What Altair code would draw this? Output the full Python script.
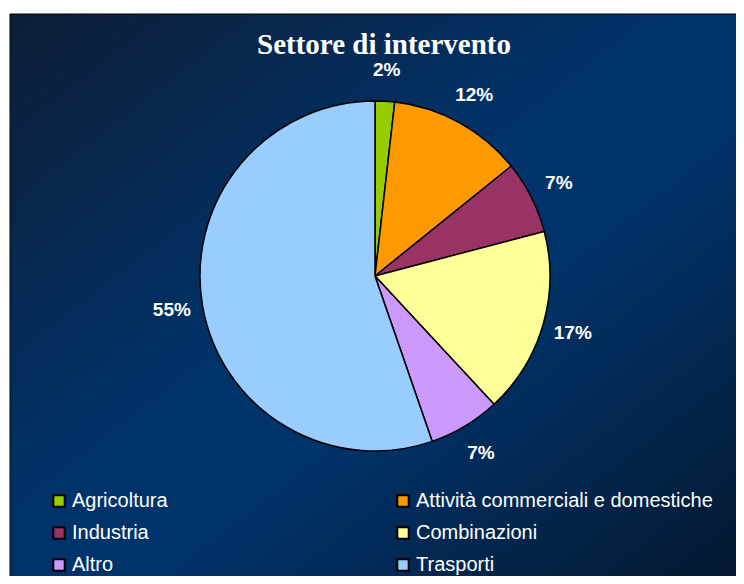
import altair as alt
import pandas as pd

categories = ["Agricoltura", "Attività commerciali e domestiche", "Industria",
              "Combinazioni", "Altro", "Trasporti"]
values = [1.8, 12.4, 6.7, 17.2, 6.6, 55.3]
labels = ["2%", "12%", "7%", "17%", "7%", "55%"]
colors = ["#99CC00", "#FF9900", "#993366", "#FFFF99", "#CC99FF", "#99CCFF"]
title_text = "Settore di intervento"

W, H = 728, 568
CX, CY = 367, 268

df = pd.DataFrame({"cat": categories, "val": values, "lab": labels,
                   "idx": list(range(len(categories)))})

bg = alt.Chart(pd.DataFrame({"k": [0]})).mark_rect(
    color=alt.Gradient(
        gradient="linear", x1=0, y1=0, x2=1, y2=1,
        stops=[alt.GradientStop(color="#0d1d36", offset=0),
               alt.GradientStop(color="#00336a", offset=0.45),
               alt.GradientStop(color="#00336a", offset=0.6),
               alt.GradientStop(color="#041830", offset=1)]),
    stroke="black", strokeWidth=1
).encode(x=alt.value(2), x2=alt.value(W + 2), y=alt.value(6), y2=alt.value(H + 2))

title = alt.Chart(pd.DataFrame({"t": [title_text]})).mark_text(
    font="Liberation Serif", fontWeight="bold", fontSize=29, color="white",
    align="center", baseline="alphabetic"
).encode(text="t:N", x=alt.value(376), y=alt.value(46))

base = alt.Chart(df).encode(
    theta=alt.Theta("val:Q", stack=True),
    order=alt.Order("idx:Q"),
)

pie = base.mark_arc(outerRadius=175, stroke="black", strokeWidth=1.5).encode(
    x=alt.value(CX), y=alt.value(CY),
    color=alt.Color("cat:N", sort=categories,
                    scale=alt.Scale(domain=categories, range=colors),
                    legend=alt.Legend(
                        title=None, orient="none", legendX=41, legendY=483,
                        columns=2, direction="horizontal",
                        symbolType="square", symbolSize=130,
                        symbolStrokeColor="black", symbolStrokeWidth=2,
                        labelColor="white", labelFontSize=20,
                        labelFont="Liberation Sans", labelOffset=3,
                        columnPadding=225, rowPadding=12, padding=0,
                        labelLimit=400)),
)

text = base.mark_text(radius=206, font="Liberation Sans", fontWeight="bold",
                      fontSize=19, color="white", align="center",
                      baseline="middle").encode(
    x=alt.value(CX), y=alt.value(CY), text="lab:N")

chart = alt.layer(bg, title, pie, text).properties(
    width=W, height=H, padding=0,
    autosize=alt.AutoSizeParams(type="none"),
).configure(background="white").configure_view(stroke=None)

chart.save("out.html", embed_options={"renderer": "svg", "actions": False})
